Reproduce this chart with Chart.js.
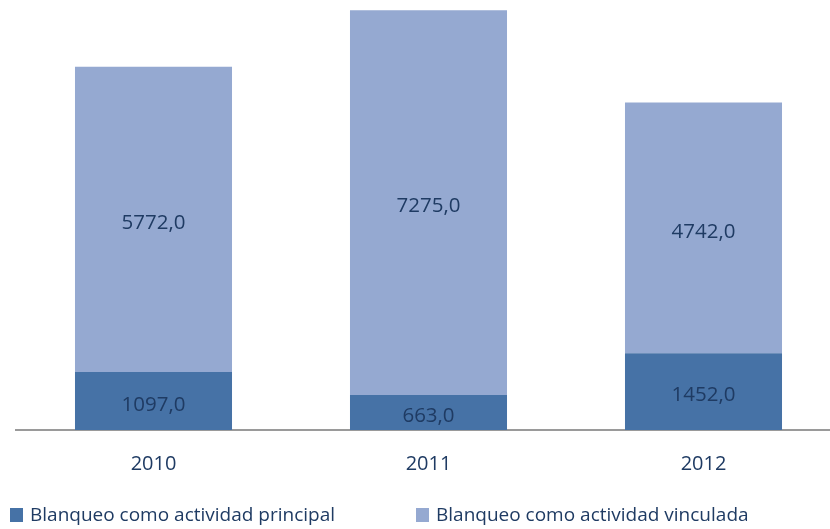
<!DOCTYPE html>
<html>
<head>
<meta charset="utf-8">
<script src="https://cdn.jsdelivr.net/npm/chart.js@4"></script>
<style>
  html, body { margin: 0; padding: 0; overflow: hidden; background: #fff; }
  #wrap { width: 830px; height: 529px; overflow: hidden; }
</style>
</head>
<body>
<div id="wrap"><canvas id="myChart" width="842" height="529"></canvas></div>
<script>
const years = ['2010', '2011', '2012'];
const principal = [1097, 663, 1452];
const vinculada = [5772, 7275, 4742];
const seriesNames = ['Blanqueo como actividad principal', 'Blanqueo como actividad vinculada'];

const FONT = '"Open Sans", sans-serif';
const TEXT_COLOR = '#1F3B63';

// value labels in the middle of each segment
const segmentLabels = {
    id: 'segmentLabels',
    afterDatasetsDraw(chart) {
        const ctx = chart.ctx;
        ctx.save();
        ctx.font = '20.5px ' + FONT;
        ctx.fillStyle = TEXT_COLOR;
        ctx.textAlign = 'center';
        ctx.textBaseline = 'middle';
        chart.data.datasets.forEach((ds, i) => {
            chart.getDatasetMeta(i).data.forEach((bar, j) => {
                const p = bar.getCenterPoint();
                const txt = ds.data[j].toFixed(1).replace('.', ',');
                ctx.fillText(txt, p.x, p.y + 4);
            });
        });
        ctx.restore();
    }
};

// legend drawn under the axis, items at fixed spots
const bottomLegend = {
    id: 'bottomLegend',
    afterDraw(chart) {
        const ctx = chart.ctx;
        const spots = [10, 416];
        ctx.save();
        ctx.font = '19px ' + FONT;
        ctx.textBaseline = 'middle';
        chart.data.datasets.forEach((ds, i) => {
            ctx.fillStyle = ds.backgroundColor;
            ctx.fillRect(spots[i], 508, 13, 14);
            ctx.fillStyle = TEXT_COLOR;
            ctx.fillText(ds.label, spots[i] + 20, 516);
        });
        ctx.restore();
    }
};

const myChart = new Chart(document.getElementById('myChart'), {
    type: 'bar',
    data: {
        labels: years,
        datasets: [{
            label: seriesNames[0],
            data: principal,
            backgroundColor: '#4672A6',
            barPercentage: 0.571,
            categoryPercentage: 1
        }, {
            label: seriesNames[1],
            data: vinculada,
            backgroundColor: '#95A9D1',
            barPercentage: 0.571,
            categoryPercentage: 1
        }]
    },
    options: {
        responsive: false,
        animation: false,
        layout: {
            padding: { left: 16, right: 1, top: 7, bottom: 0 }
        },
        plugins: {
            legend: { display: false },
            tooltip: { enabled: false }
        },
        scales: {
            x: {
                stacked: true,
                grid: { display: false },
                border: { color: '#9A9A9A', width: 2 },
                ticks: {
                    color: TEXT_COLOR,
                    font: { family: FONT, size: 20 },
                    padding: 14
                },
                afterFit: s => { s.height = 99; }
            },
            y: {
                stacked: true,
                display: false,
                min: 0,
                max: 8000
            }
        }
    },
    plugins: [segmentLabels, bottomLegend]
});
</script>
</body>
</html>
